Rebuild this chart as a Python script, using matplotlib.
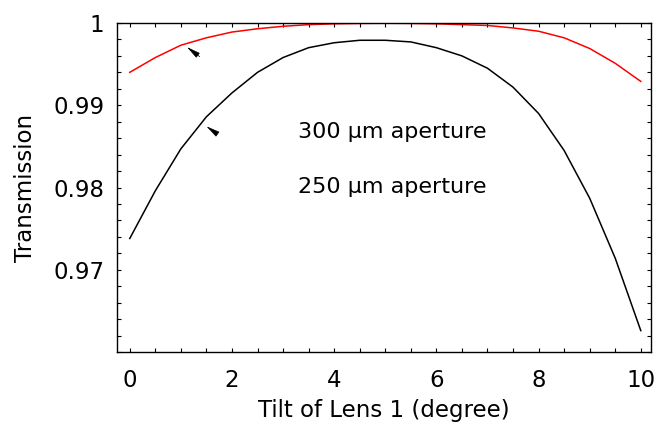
"""Transmission vs. tilt of lens 1 for two aperture sizes."""

import matplotlib

matplotlib.use("Agg")
import matplotlib.pyplot as plt
from matplotlib.ticker import MultipleLocator

# tilt angle in degrees (sampled every 0.5 deg)
tilt = [0.0, 0.5, 1.0, 1.5, 2.0, 2.5, 3.0, 3.5, 4.0, 4.5, 5.0,
        5.5, 6.0, 6.5, 7.0, 7.5, 8.0, 8.5, 9.0, 9.5, 10.0]

# 300 um aperture (red)
trans_300 = [0.9940, 0.9958, 0.9973, 0.9982, 0.9989, 0.9993, 0.9996,
             0.9998, 0.9999, 0.99995, 0.99997, 0.99995, 0.9999, 0.9998,
             0.9997, 0.9994, 0.9990, 0.9982, 0.9969, 0.9951, 0.9929]

# 250 um aperture (black)
trans_250 = [0.9738, 0.9796, 0.9847, 0.9886, 0.9915, 0.9940, 0.9958,
             0.9970, 0.9976, 0.9979, 0.9979, 0.9977, 0.9970, 0.9960,
             0.9945, 0.9922, 0.9890, 0.9845, 0.9787, 0.9714, 0.9626]

labels = ["300 \u03bcm aperture", "250 \u03bcm aperture"]

plt.rcParams["font.family"] = ["DejaVu Sans"]

fig = plt.figure(figsize=(6.55, 4.26), dpi=100)
ax = fig.add_axes([0.1786, 0.1737, 0.8153, 0.7723])

ax.plot(tilt, trans_300, color="#ff0000", lw=1.1)
ax.plot(tilt, trans_250, color="black", lw=1.1)

ax.set_xlim(-0.25, 10.2)
ax.set_ylim(0.96, 1.0)
ax.xaxis.set_major_locator(MultipleLocator(2))
ax.xaxis.set_minor_locator(MultipleLocator(0.5))
ax.yaxis.set_major_locator(MultipleLocator(0.01))
ax.yaxis.set_minor_locator(MultipleLocator(0.002))
ax.set_yticks([0.97, 0.98, 0.99, 1.0])
ax.set_yticklabels(["0.97", "0.98", "0.99", "1"])

ax.tick_params(which="both", direction="in", top=True, right=True,
               length=3, width=0.8, labelsize=16.5)
ax.tick_params(axis="y", which="both", pad=9)
ax.tick_params(axis="x", which="both", pad=12)
for s in ax.spines.values():
    s.set_linewidth(1.0)

ax.set_xlabel("Tilt of Lens 1 (degree)", fontsize=16.5, labelpad=5)
ax.set_ylabel("Transmission", fontsize=16.5, labelpad=12)

ax.text(3.29, 0.98671, labels[0], fontsize=16, va="center", ha="left")
ax.text(3.29, 0.98012, labels[1], fontsize=16, va="center", ha="left")

# small arrowheads pointing at the curves
arrow = dict(arrowstyle="-|>,head_length=0.85,head_width=0.18",
             color="black", lw=0.5, shrinkA=0, shrinkB=0, mutation_scale=10)
ax.annotate("", xy=(1.12, 0.99707), xytext=(1.37, 0.99590), arrowprops=arrow)
ax.annotate("", xy=(1.50, 0.98744), xytext=(1.71, 0.98652), arrowprops=arrow)

fig.savefig("out.png", dpi=100)
